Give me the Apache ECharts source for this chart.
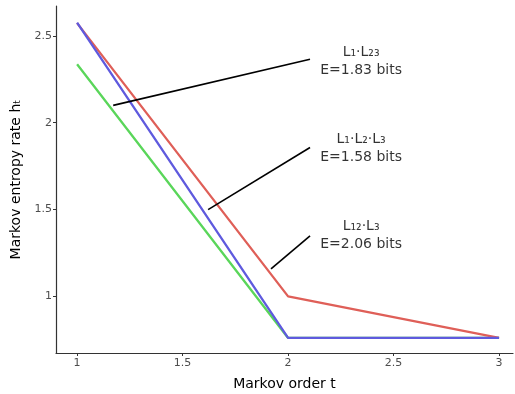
<!DOCTYPE html>
<html><head><meta charset="utf-8">
<script src="https://cdn.jsdelivr.net/npm/echarts@6/dist/echarts.min.js"></script>
<style>html,body{margin:0;padding:0;background:#fff}#c{width:515px;height:394px}</style>
</head><body><div id="c"></div>
<script>
var orders = [1, 2, 3];
var redValues = [2.575, 0.997, 0.757];
var greenValues = [2.338, 0.757, 0.757];
var blueValues = [2.578, 0.757, 0.757];
var xTicks = [1, 1.5, 2, 2.5, 3];
var yTicks = [1, 1.5, 2, 2.5];
var seg1 = [[1.171, 2.10], [2.104, 2.367]];
var seg2 = [[1.621, 1.498], [2.104, 1.857]];
var seg3 = [[1.919, 1.156], [2.104, 1.347]];
var labelTexts = ['L₁·L₂₃\nE=1.83 bits', 'L₁·L₂·L₃\nE=1.58 bits', 'L₁₂·L₃\nE=2.06 bits'];
var labelPos = [[2.346, 2.355], [2.346, 1.854], [2.346, 1.351]];

function pairs(xs, ys) { return xs.map(function (x, i) { return [x, ys[i]]; }); }
var font = 'DejaVu Sans';
var chart = echarts.init(document.getElementById('c'));
var segStyle = { color: '#000', width: 1.6 };
function segSeries(d) {
  return { type: 'line', data: d, symbol: 'none', lineStyle: segStyle, silent: true, z: 5 };
}
chart.setOption({
  animation: false,
  grid: { left: 56, top: 6, right: 2, bottom: 41, containLabel: false, outerBoundsMode: 'none' },
  xAxis: {
    type: 'value', min: 0.9, max: 3.066,
    name: 'Markov order t', nameLocation: 'middle', nameGap: 24,
    nameTextStyle: { fontFamily: font, fontSize: 14, color: '#000' },
    axisLine: { show: true, lineStyle: { color: '#333', width: 1.2 } },
    axisTick: { show: true, length: 3, customValues: xTicks, lineStyle: { color: '#333' } },
    axisLabel: { customValues: xTicks, fontFamily: font, fontSize: 11, color: '#4d4d4d', margin: 5,
      formatter: function (v) { return String(v); } },
    splitLine: { show: false }
  },
  yAxis: {
    type: 'value', min: 0.67, max: 2.674,
    name: 'Markov entropy rate hₜ', nameLocation: 'middle', nameGap: 29, nameRotate: 90,
    nameTextStyle: { fontFamily: font, fontSize: 14, color: '#000' },
    axisLine: { show: true, lineStyle: { color: '#333', width: 1.2 } },
    axisTick: { show: true, length: 3, customValues: yTicks, lineStyle: { color: '#333' } },
    axisLabel: { customValues: yTicks, fontFamily: font, fontSize: 11, color: '#4d4d4d', margin: 4,
      formatter: function (v) { return String(v); } },
    splitLine: { show: false }
  },
  series: [
    { type: 'line', data: pairs(orders, greenValues), symbol: 'none', lineStyle: { color: '#5ad65a', width: 2.3 }, z: 2 },
    { type: 'line', data: pairs(orders, redValues), symbol: 'none', lineStyle: { color: '#df5f58', width: 2.3 }, z: 3 },
    { type: 'line', data: pairs(orders, blueValues), symbol: 'none', lineStyle: { color: '#5f5ade', width: 2.3 }, z: 4 },
    segSeries(seg1), segSeries(seg2), segSeries(seg3),
    { type: 'scatter', symbolSize: 0, silent: true, z: 6,
      data: labelPos.map(function (p, i) {
        return { value: p, label: { show: true, position: 'inside', formatter: labelTexts[i],
          fontFamily: font, fontSize: 14, color: '#000', textBorderWidth: 0, lineHeight: 18, align: 'center' } };
      }) }
  ]
});
</script></body></html>
